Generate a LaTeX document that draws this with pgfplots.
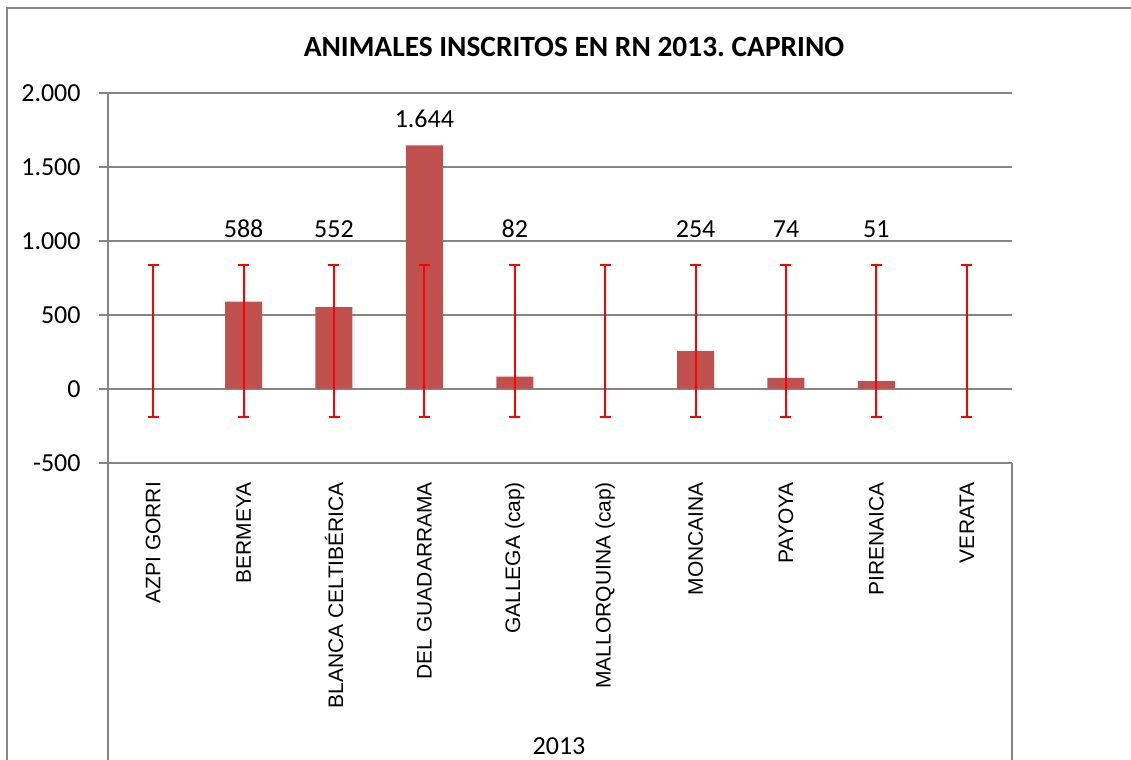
\documentclass[border=0pt]{standalone}
\usepackage{pgfplots}
\pgfplotsset{compat=1.18}
\usepackage{pgfplotstable}
\usepackage{fontspec}
\setmainfont{Carlito}
\newfontfamily\arialf{Liberation Sans}
\definecolor{barred}{HTML}{C0504D}
\definecolor{gridgray}{HTML}{868686}
\frenchspacing

% bars: x position, value
\pgfplotstableread{
x v
0 0
1 588
2 552
3 1644
4 82
5 0
6 254
7 74
8 51
9 0
}\bardata

% error bars: centre and half-length (from about -192 to 838)
\pgfplotstableread{
x c e
0 323 515
1 323 515
2 323 515
3 323 515
4 323 515
5 323 515
6 323 515
7 323 515
8 323 515
9 323 515
}\errdata

% data labels: x, label height, text
\pgfplotstableread{
x y lab
1 1080 588
2 1080 552
3 1826 1.644
4 1080 82
6 1080 254
7 1080 74
8 1080 51
}\labdata

\begin{document}
\begin{tikzpicture}
\path[use as bounding box] (0pt,0pt) rectangle (565.5pt,-380pt);
% chart frame (left and top edges visible)
\draw[gridgray, line width=1pt] (3.5pt,-380pt) -- (3.5pt,-4pt) -- (565.5pt,-4pt);
\begin{axis}[
  at={(54pt,-231.35pt)}, anchor=south west,
  scale only axis, width=452pt, height=185pt,
  xmin=-0.5, xmax=9.5, ymin=-500, ymax=2000,
  axis line style={draw=none},
  ytick={-500,0,500,1000,1500,2000},
  yticklabels={-500,0,500,1.000,1.500,2.000},
  xtick={0,...,9},
  xticklabels={AZPI GORRI,BERMEYA,BLANCA CELTIBÉRICA,DEL GUADARRAMA,GALLEGA (cap),MALLORQUINA (cap),MONCAINA,PAYOYA,PIRENAICA,VERATA},
  ytick pos=left, xtick pos=bottom,
  tick align=outside,
  major tick length=4.5pt,
  ytick style={draw=gridgray, line width=0.9pt},
  xtick style={draw=none},
  ymajorgrids, major grid style={draw=gridgray, line width=0.9pt},
  yticklabel style={font=\fontsize{13}{15}\selectfont, inner sep=0pt, xshift=-9pt},
  xticklabel style={font=\arialf\fontsize{10.5}{12}\selectfont, yshift=-5pt, rotate=90, anchor=east, inner sep=0pt},
  clip=false,
]
\addplot[ybar, bar width=18.5pt, bar shift=0pt, fill=barred, draw=none] table[x=x, y=v] {\bardata};
\addplot[draw=none, error bars/.cd, y dir=both, y explicit,
  error bar style={draw=red, line width=1pt},
  error mark options={draw=red, line width=1pt, mark size=2.75pt, rotate=90}]
  table[x=x, y=c, y error=e] {\errdata};
\addplot[draw=none, nodes near coords, point meta=explicit symbolic,
  nodes near coords style={anchor=center, inner sep=0pt, font=\fontsize{13}{15}\selectfont, text=black}]
  table[x=x, y=y, meta=lab] {\labdata};
\end{axis}
% category group separators and group label
\draw[gridgray, line width=0.9pt] (54pt,-46.35pt) -- (54pt,-380pt);
\draw[gridgray, line width=0.9pt] (506pt,-231.35pt) -- (506pt,-380pt);
\node[font=\fontsize{13}{15}\selectfont, inner sep=0pt] at (279.5pt,-373pt) {2013};
\node[font=\bfseries\fontsize{14.7}{17}\selectfont, inner sep=0pt] at (287pt,-23.5pt) {ANIMALES INSCRITOS EN RN 2013. CAPRINO};
\end{tikzpicture}
\end{document}
